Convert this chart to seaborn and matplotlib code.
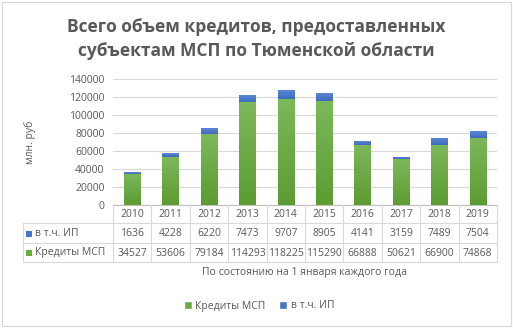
import numpy as np
import pandas as pd
import matplotlib.pyplot as plt
import matplotlib.transforms as mtransforms
from matplotlib.lines import Line2D
from matplotlib.patches import Rectangle
from matplotlib.colors import LinearSegmentedColormap
import seaborn as sns

years = ['2010', '2011', '2012', '2013', '2014', '2015', '2016', '2017', '2018', '2019']
ip = [1636, 4228, 6220, 7473, 9707, 8905, 4141, 3159, 7489, 7504]
msp = [34527, 53606, 79184, 114293, 118225, 115290, 66888, 50621, 66900, 74868]
series_names = ['Кредиты МСП', 'в т.ч. ИП']

green = '#6aab40'
blue = '#4674c6'
grid = '#d9d9d9'
txt = '#595959'

sns.set_style('white')
plt.rcParams['font.family'] = ['Open Sans', 'DejaVu Sans']

df = pd.DataFrame({'year': years, 'msp': msp, 'ip': ip})

fig = plt.figure(figsize=(5.13, 3.28), dpi=100)
W, H = 513, 328
ax = fig.add_axes([113 / W, 1 - 205 / H, 384 / W, 126 / H])

sns.barplot(data=df, x='year', y='msp', color=green, width=0.43, saturation=1, ax=ax, zorder=3)
sns.barplot(data=df, x='year', y='ip', bottom=df['msp'], color=blue, width=0.43, saturation=1, ax=ax, zorder=3)

# Excel-like vertical gradient fill on each bar segment
cmaps = {
    'g': LinearSegmentedColormap.from_list('g', ['#5c9c32', '#7db85a']),
    'b': LinearSegmentedColormap.from_list('b', ['#3e6bbf', '#5b87d4']),
}
grad = np.linspace(0, 1, 256).reshape(-1, 1)
for k, patch in enumerate(ax.patches):
    cm = cmaps['g'] if k < len(years) else cmaps['b']
    x0, y0 = patch.get_x(), patch.get_y()
    w, h = patch.get_width(), patch.get_height()
    im = ax.imshow(grad, cmap=cm, origin='lower', aspect='auto', interpolation='bilinear',
                   extent=[x0, x0 + w, y0, y0 + h], zorder=3)
    im.set_clip_path(patch)
    patch.set_facecolor('none')
    patch.set_edgecolor('none')
ax.set_ylim(0, 140000)
ax.set_xlim(-0.5, len(years) - 0.5)

ax.set_yticks(np.arange(0, 140001, 20000))
ax.yaxis.grid(True, color=grid, lw=0.8)
ax.set_axisbelow(True)
ax.tick_params(axis='y', length=0, labelsize=7.5, labelcolor=txt, pad=6)
ax.set_xticks([])
ax.set_xlabel('')
ax.set_ylabel('')
for s in ['top', 'right', 'left']:
    ax.spines[s].set_visible(False)
ax.spines['bottom'].set_color('#bfbfbf')
ax.spines['bottom'].set_linewidth(0.8)

fig.text(30 / W, 1 - 142 / H, 'млн. руб', rotation=90, ha='center', va='center',
         fontsize=7.5, color=txt)

# data table under the axis
trans = mtransforms.blended_transform_factory(ax.transData, fig.transFigure)
fy = lambda p: 1 - p / H
rows_px = [205, 223, 243, 262]
n = len(years)
for i in range(n + 1):
    fig.add_artist(Line2D([i - 0.5, i - 0.5], [fy(205), fy(262)], transform=trans, color=grid, lw=0.8))
for p in rows_px[1:]:
    fig.add_artist(Line2D([23 / W, 497 / W], [fy(p), fy(p)], transform=fig.transFigure, color=grid, lw=0.8))
fig.add_artist(Line2D([23 / W, 23 / W], [fy(223), fy(262)], transform=fig.transFigure, color=grid, lw=0.8))

for i, y in enumerate(years):
    fig.text(i, fy(214.5), y, transform=trans, ha='center', va='center', fontsize=7.5, color=txt)
    fig.text(i, fy(233.5), str(ip[i]), transform=trans, ha='center', va='center', fontsize=7.5, color=txt)
    fig.text(i, fy(253), str(msp[i]), transform=trans, ha='center', va='center', fontsize=7.5, color=txt)

for ypx, name, col in [(233.5, series_names[1], blue), (253, series_names[0], green)]:
    fig.add_artist(Rectangle((26 / W, fy(ypx + 3)), 6 / W, 6 / H, transform=fig.transFigure,
                             facecolor=col, edgecolor='none'))
    fig.text(35 / W, fy(ypx), name, ha='left', va='center', fontsize=7.5, color=txt)

fig.text(305 / W, fy(272.5), 'По состоянию на 1 января каждого года', ha='center', va='center',
         fontsize=7.5, color=txt)

# legend
handles = [Rectangle((0, 0), 1, 1, facecolor=green), Rectangle((0, 0), 1, 1, facecolor=blue)]
fig.legend(handles, series_names, loc='center', bbox_to_anchor=(259 / W, fy(306)), ncol=2,
           frameon=False, fontsize=7.5, labelcolor=txt, handlelength=0.8, handleheight=0.8,
           handletextpad=0.3, columnspacing=1.3)

fig.suptitle('Всего объем кредитов, предоставленных\nсубъектам МСП по Тюменской области',
             x=0.5, y=fy(18), va='top', fontsize=12.5, fontweight='bold', color=txt, linespacing=1.45)

fig.add_artist(Rectangle((2 / W, 2 / H), 509 / W, 324 / H, transform=fig.transFigure,
                         facecolor='none', edgecolor=grid, lw=0.8))

fig.savefig('out.png', dpi=100)
